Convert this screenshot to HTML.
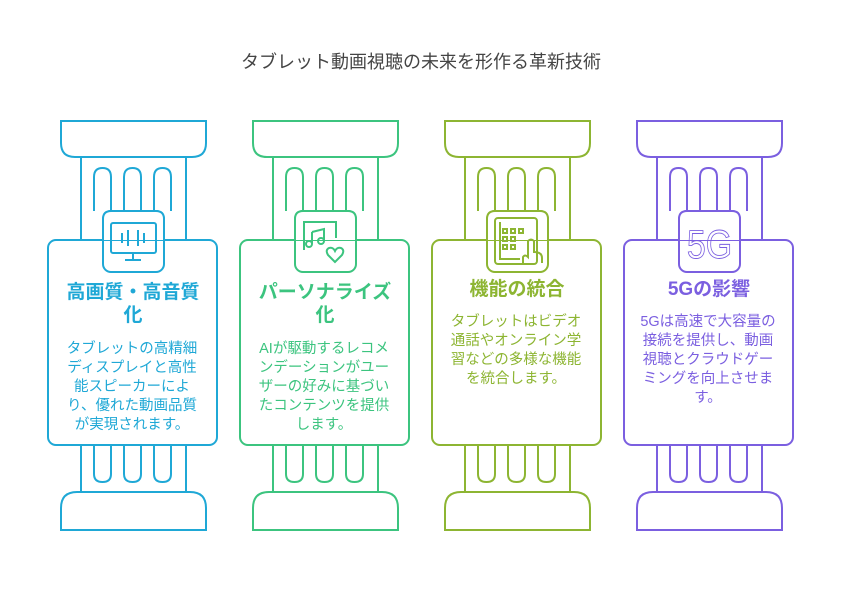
<!DOCTYPE html>
<html><head><meta charset="utf-8"><style>
body{margin:0;background:#fff;width:842px;height:602px;overflow:hidden;position:relative;font-family:"Liberation Sans","Noto Sans CJK JP",sans-serif}
.t{position:absolute;left:0;width:842px;top:48px;text-align:center;font-size:18px;color:#444}
.h{position:absolute;width:150px;text-align:center;font-weight:bold;font-size:19px;line-height:23px}
.d{position:absolute;width:142px;text-align:center;font-size:14.5px;line-height:19px}
</style></head><body>
<svg width="842" height="602" style="position:absolute;left:0;top:0" fill="none" stroke-width="2">
<defs>
<g id="col">
<path d="M13 121 H158 V143 Q158 157 144 157 H27 Q13 157 13 143 Z"/>
<path d="M33 157 V240 M138 157 V240"/>
<path d="M46 211 V177 Q46 168 54.5 168 Q63 168 63 177 V211"/>
<path d="M76 211 V177 Q76 168 84.5 168 Q93 168 93 177 V211"/>
<path d="M106 211 V177 Q106 168 114.5 168 Q123 168 123 177 V211"/>
<rect x="55" y="211" width="61" height="61" rx="8" fill="#fff"/>
<rect x="0" y="240" width="169" height="205" rx="8"/>
<rect x="55" y="211" width="61" height="29" fill="#fff" stroke="none"/>
<path d="M55 240 V219 Q55 211 63 211 H108 Q116 211 116 219 V240"/>
<path d="M33 445 V492 M138 445 V492"/>
<path d="M46 445 V474 Q46 482 54.5 482 Q63 482 63 474 V445"/>
<path d="M76 445 V474 Q76 482 84.5 482 Q93 482 93 474 V445"/>
<path d="M106 445 V474 Q106 482 114.5 482 Q123 482 123 474 V445"/>
<path d="M13 530 H158 V508 Q158 492 142 492 H29 Q13 492 13 508 Z"/>
</g>
</defs>
<g stroke="#1fa8d6" transform="translate(48,0)"><use href="#col"/>
<rect x="63" y="223" width="45" height="30" rx="2"/><path d="M85 253 V260 M77 260 H93 M74 233 V243 M80 230 V246 M90 230 V246 M96 233 V243"/></g>
<g stroke="#3cc47f" transform="translate(240,0)"><use href="#col"/>
<path d="M64 250 V222 H96 V238 M72 232 V244 M72 232 L84 229 V241"/><circle cx="69" cy="244" r="3"/><circle cx="81" cy="241" r="3"/><path d="M95 262 L88 255 Q85 250 89 248 Q93 247 95 251 Q97 247 101 248 Q105 250 102 255 Z"/></g>
<g stroke="#8db532" transform="translate(432,0)"><use href="#col"/>
<rect x="63" y="218" width="42" height="46" rx="3"/><path d="M68 222 V259 H88"/><rect x="71" y="229" width="4" height="4"/><rect x="79" y="229" width="4" height="4"/><rect x="87" y="229" width="4" height="4"/><rect x="71" y="237" width="4" height="4"/><rect x="79" y="237" width="4" height="4"/><rect x="71" y="245" width="4" height="4"/><rect x="79" y="245" width="4" height="4"/><path d="M91 263 V257 Q93 254 96 257 V241 Q99 238 102 241 V252 Q110 252 110 258 V263"/></g>
<g stroke="#7b5fe0" transform="translate(624,0)"><use href="#col"/>
<text x="85.5" y="258" font-size="40" fill="none" stroke="#7b5fe0" stroke-width="0.9" text-anchor="middle" font-family="Liberation Sans" transform="translate(85.5 0) scale(0.85 1) translate(-85.5 0)">5G</text></g>
</svg>
<div class="t">タブレット動画視聴の未来を形作る革新技術</div>
<div class="h" style="left:58px;top:281px;color:#1fa8d6">高画質・高音質化</div>
<div class="d" style="left:61px;top:340px;color:#1fa8d6">タブレットの高精細ディスプレイと高性能スピーカーにより、優れた動画品質が実現されます。</div>
<div class="h" style="left:250px;top:281px;color:#3cc47f">パーソナライズ化</div>
<div class="d" style="left:253px;top:340px;color:#3cc47f">AIが駆動するレコメンデーションがユーザーの好みに基づいたコンテンツを提供します。</div>
<div class="h" style="left:442px;top:278px;color:#8db532">機能の統合</div>
<div class="d" style="left:445px;top:313px;color:#8db532">タブレットはビデオ通話やオンライン学習などの多様な機能を統合します。</div>
<div class="h" style="left:634px;top:278px;color:#7b5fe0">5Gの影響</div>
<div class="d" style="left:637px;top:313px;color:#7b5fe0">5Gは高速で大容量の接続を提供し、動画視聴とクラウドゲーミングを向上させます。</div>
</body></html>
